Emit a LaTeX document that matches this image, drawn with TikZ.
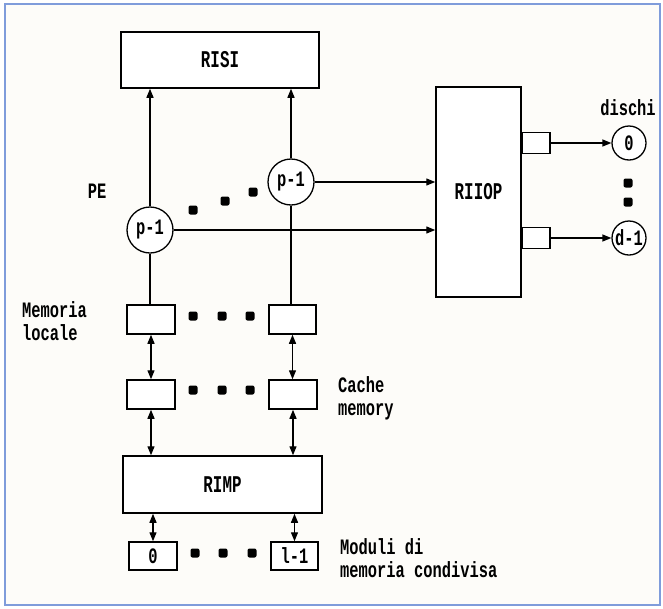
\documentclass[tikz,border=0pt]{standalone}
\usepackage{fontspec}
\usepackage{xcolor}
\usetikzlibrary{arrows.meta, positioning, calc}
\newfontfamily\lblfont[FakeStretch=0.7]{Liberation Mono}
\newfontfamily\tagfont[FakeStretch=0.66]{Liberation Mono}
\definecolor{frameblue}{HTML}{7F9CDB}
\definecolor{paper}{HTML}{FDFCF9}

\begin{document}
\begin{tikzpicture}[x=1pt, y=-1pt,
    box/.style={draw, line width=1.5pt, fill=white, inner sep=0pt},
    pe/.style={draw, circle, line width=1.3pt, fill=white, minimum size=46pt, inner sep=0pt,
      font=\lblfont\bfseries\fontsize{22}{22}\selectfont},
    disk/.style={pe, minimum size=34pt},
    link/.style={line width=1.3pt, -{Triangle[length=9pt,width=7pt]}},
    dlink/.style={line width=1.3pt, {Triangle[length=9pt,width=7pt]}-{Triangle[length=9pt,width=7pt]}},
    txt/.style={font=\lblfont\bfseries\fontsize{22}{23}\selectfont, align=left, inner sep=0pt},
    tag/.style={font=\tagfont\bfseries\fontsize{24}{24}\selectfont}]

  % cornice
  \useasboundingbox (0,0) rectangle (663,608);
  \draw[frameblue, line width=2.5pt, fill=paper] (5,4) rectangle (660,605);

  % reti
  \node[box, tag, minimum width=198pt, minimum height=56pt] (risi) at (220,60) {RISI};
  \node[box, tag, minimum width=85pt, minimum height=210pt] (riiop) at (478.5,192) {RIIOP};
  \node[box, tag, minimum width=199pt, minimum height=57pt] (rimp) at (222.5,484.5) {RIMP};

  % porte e dischi
  \node[box, minimum width=28pt, minimum height=21pt, anchor=west] (io0) at (521,143) {};
  \node[box, minimum width=28pt, minimum height=21pt, anchor=west] (io1) at (521,238) {};
  \node[disk] (dk0) at (629,143) {0};
  \node[disk] (dk1) at (629,238) {d-1};

  % PE
  \node[pe] (pa) at (150,230) {p-1};
  \node[pe] (pb) at (291,182) {p-1};

  % memoria locale, cache, moduli
  \node[box, minimum width=48pt, minimum height=29pt] (ml1) at (151,319.5) {};
  \node[box, minimum width=47pt, minimum height=29pt] (ml2) at (292.5,319.5) {};
  \node[box, minimum width=48pt, minimum height=29pt] (cm1) at (151,394.5) {};
  \node[box, minimum width=48pt, minimum height=29pt] (cm2) at (293,394.5) {};
  \node[box, minimum width=48pt, minimum height=28pt, txt] (mm1) at (153,556) {0};
  \node[box, minimum width=47pt, minimum height=28pt, txt] (mm2) at (294.5,556) {l-1};

  % collegamenti
  \draw[link] (pa) -- (pa |- risi.south);
  \draw[link] (pb) -- (pb |- risi.south);
  \draw[link] (pb) -- (pb -| riiop.west);
  \draw[link] (pa) -- (pa -| riiop.west);
  \draw[line width=1.3pt] (pa.south) -- (pa.south |- ml1.north);
  \draw[line width=1.3pt] (pb.south) -- (pb.south |- ml2.north);
  \draw[dlink] (ml1.south) -- (ml1.south |- cm1.north);
  \draw[dlink] (ml2.south) -- (ml2.south |- cm2.north);
  \draw[dlink] (cm1.south) -- (cm1.south |- rimp.north);
  \draw[dlink] (cm2.south) -- (cm2.south |- rimp.north);
  \draw[dlink] (mm1.north |- rimp.south) -- (mm1.north);
  \draw[dlink] (mm2.north |- rimp.south) -- (mm2.north);
  \draw[link] (io0) -- (dk0);
  \draw[link] (io1) -- (dk1);

  % puntini
  \foreach \x/\y in {193/210, 225/201, 253/192,
                     193/316, 222/316, 250/316,
                     193/390, 222/390, 250/390,
                     195/553, 223/553, 252/553,
                     628/183, 628/202}
    \fill[rounded corners=2pt] (\x-4.5,\y-4.5) rectangle ++(9,9);

  % etichette
  \node[txt, anchor=base] (pelbl) at (97,198) {PE};
  \node[txt, anchor=base] (dslbl) at (628,115) {dischi};
  \node[txt, anchor=base west] (mllbl) at (22,340) {Memoria\\locale};
  \node[txt, anchor=base west] (cmlbl) at (338,415) {Cache\\memory};
  \node[txt, anchor=base west] (mmlbl) at (340,577) {Moduli di\\memoria condivisa};
\end{tikzpicture}
\end{document}
